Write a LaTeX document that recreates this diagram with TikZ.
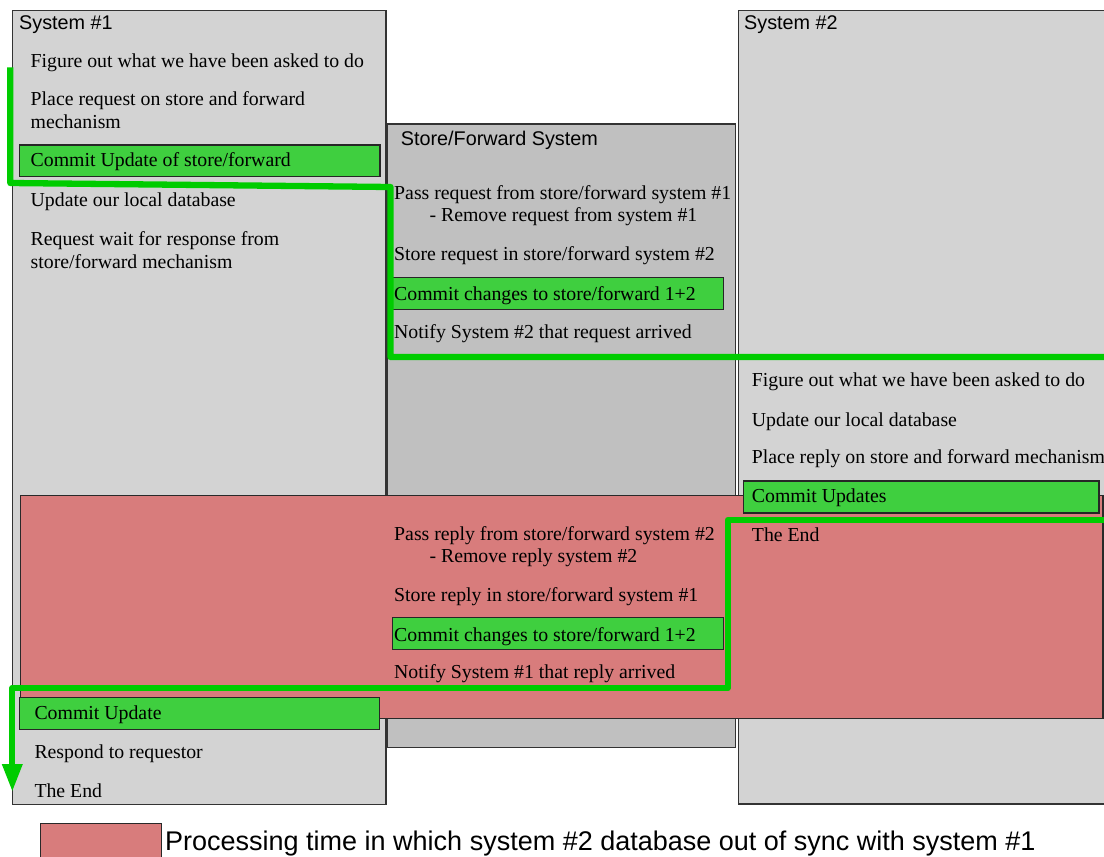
\documentclass[tikz,border=0pt]{standalone}
\usepackage{fontspec}
\setmainfont{Liberation Serif}
\setsansfont{Liberation Sans}
\usetikzlibrary{arrows.meta}

\definecolor{boxline}{HTML}{333333}
\definecolor{sysgray}{HTML}{D3D3D3}
\definecolor{sfgray}{HTML}{C0C0C0}
\definecolor{syncpink}{HTML}{D87C7C}
\definecolor{commitgreen}{HTML}{3FCF3F}
\definecolor{flowgreen}{HTML}{00CC00}

\begin{document}
\begin{tikzpicture}[x=1pt,y=-1pt,
  rect/.style={anchor=north west, inner sep=0pt, outer sep=0pt},
  sysbox/.style={rect, draw=boxline, fill=sysgray, line width=1.5pt},
  sfbox/.style={rect, draw=boxline, fill=sfgray, line width=1.5pt},
  pinkbox/.style={rect, draw=boxline!80!black, fill=syncpink, line width=1.5pt},
  commitbox/.style={rect, draw=black!85, fill=commitgreen, line width=1.4pt},
  txt/.style={anchor=base west, inner sep=0pt, font=\fontsize{19.8}{23}\selectfont},
  title/.style={anchor=base west, inner sep=0pt, font=\sffamily\fontsize{19.8}{23}\selectfont},
  legendtxt/.style={anchor=base west, inner sep=0pt, font=\sffamily\fontsize{27}{30}\selectfont},
  flow/.style={draw=flowgreen, line width=6.3pt, line join=round},
]
\useasboundingbox (0,0) rectangle (1104,857);
\clip (0,0) rectangle (1104,857);

% the three systems
\node[sysbox, minimum width=373.3pt, minimum height=793.6pt] (sys1) at (12.7,10.7) {};
\node[sfbox,  minimum width=348.4pt, minimum height=623.3pt] (sf)   at (387.3,124) {};
\node[sysbox, minimum width=371.7pt, minimum height=793.3pt] (sys2) at (738.3,10.7) {};

\node[title] (sys1title) at (19,29.3) {System \#1};
\node[title] (sys2title) at (744,29.3) {System \#2};
\node[title] (sftitle) at (400.7,145.7) {Store/Forward System};

% out-of-sync window
\node[pinkbox, minimum width=1082.3pt, minimum height=222.6pt] (sync) at (20.7,495.7) {};

% commit steps
\node[commitbox, minimum width=360.7pt, minimum height=31.7pt] (c1) at (19.3,145) {};
\node[commitbox, minimum width=331pt,   minimum height=32pt]   (c2) at (392.3,277.3) {};
\node[commitbox, minimum width=355.7pt, minimum height=32pt]   (c3) at (743.3,481) {};
\node[commitbox, minimum width=331pt,   minimum height=32pt]   (c4) at (392.3,617.3) {};
\node[commitbox, minimum width=360pt,   minimum height=31.6pt] (c5) at (19.3,697.7) {};

% system #1, request side
\node[txt] (s1a)  at (30.5,67.5)  {Figure out what we have been asked to do};
\node[txt] (s1b)  at (30.5,105)   {Place request on store and forward};
\node[txt] (s1b2) at (30.5,128)   {mechanism};
\node[txt] (s1c)  at (30.5,166)   {Commit Update of store/forward};
\node[txt] (s1d)  at (30.5,206)   {Update our local database};
\node[txt] (s1e)  at (30.5,245)   {Request wait for response from};
\node[txt] (s1e2) at (30.5,268)   {store/forward mechanism};

% store/forward, request
\node[txt] (sfa)  at (394,199.3)  {Pass request from store/forward system \#1};
\node[txt] (sfa2) at (429.3,221.7){- Remove request from system \#1};
\node[txt] (sfb)  at (394,260.7)  {Store request in store/forward system \#2};
\node[txt] (sfc)  at (394,300)    {Commit changes to store/forward 1+2};
\node[txt] (sfd)  at (394,338.3)  {Notify System \#2 that request arrived};

% system #2
\node[txt] (s2a) at (751.7,386.7) {Figure out what we have been asked to do};
\node[txt] (s2b) at (751.7,426)   {Update our local database};
\node[txt] (s2c) at (751.7,463.3) {Place reply on store and forward mechanism};
\node[txt] (s2d) at (751.7,502.7) {Commit Updates};
\node[txt] (s2e) at (751.7,541.7) {The End};

% store/forward, reply
\node[txt] (sfe)  at (394,540)    {Pass reply from store/forward system \#2};
\node[txt] (sfe2) at (429.3,562.7){- Remove reply system \#2};
\node[txt] (sff)  at (394,601.7)  {Store reply in store/forward system \#1};
\node[txt] (sfg)  at (394,641)    {Commit changes to store/forward 1+2};
\node[txt] (sfh)  at (394,678.3)  {Notify System \#1 that reply arrived};

% system #1, reply side
\node[txt] (s1f) at (34.3,719.3) {Commit Update};
\node[txt] (s1g) at (34.3,758.3) {Respond to requestor};
\node[txt] (s1h) at (34.3,797.7) {The End};

% flow of control
\coordinate (f1a) at (10.3,67.3);
\coordinate (f1b) at (10.3,183);
\coordinate (f1c) at (390.5,187);
\coordinate (f1d) at (390.5,357);
\coordinate (f1e) at (1112,357);
\draw[flow] (f1a) -- (f1b) -- (f1c) -- (f1d) -- (f1e);

\coordinate (f2a) at (1112,520);
\coordinate (f2b) at (727.7,520);
\coordinate (f2c) at (727.7,688);
\coordinate (f2d) at (12.3,688);
\coordinate (f2e) at (12.3,792);
\draw[flow, -{Triangle[width=19pt,length=28pt]}] (f2a) -- (f2b) -- (f2c) -- (f2d) -- (f2e);

% legend
\node[pinkbox, minimum width=120.6pt, minimum height=46.7pt] (legbox) at (40.7,823.3) {};
\node[legendtxt] (legtext) at (165,850.7) {Processing time in which system \#2 database out of sync with system \#1};
\end{tikzpicture}
\end{document}
